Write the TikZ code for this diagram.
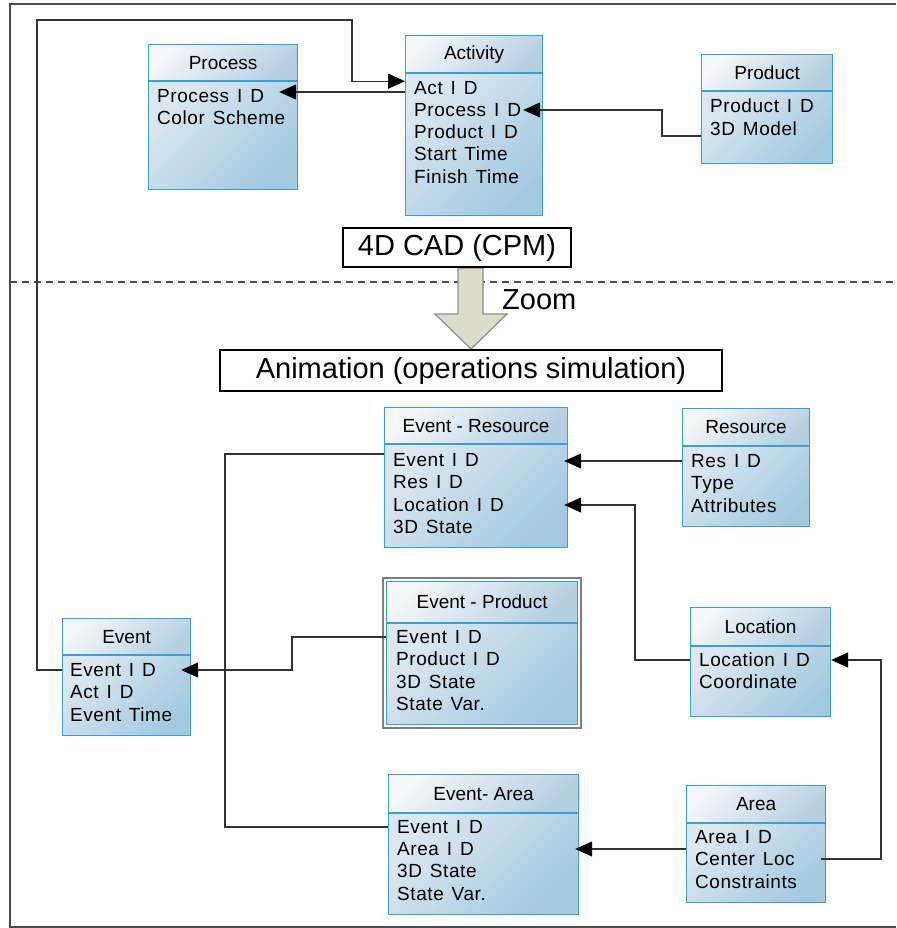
\documentclass[tikz,border=0pt]{standalone}
\usepackage{fontspec}
\setmainfont{Liberation Sans}
\newfontfamily\rowfamily{Liberation Sans}[LetterSpace=3, WordSpace=1.35]
\usetikzlibrary{calc}
\usetikzlibrary{arrows.meta}

\definecolor{tabline}{HTML}{3A9FD5}
\definecolor{tabhi}{HTML}{F4F6F8}
\definecolor{headlo}{HTML}{B6D0E2}
\definecolor{bodyhi}{HTML}{DCE8F0}
\definecolor{bodylo}{HTML}{A3C9E1}
\definecolor{zoomfill}{HTML}{DCDCC8}
\definecolor{wiregray}{HTML}{333333}

\newcommand{\rowfont}{\fontsize{19}{22}\selectfont}
\newcommand{\bigfont}{\fontsize{29}{34}\selectfont}

\begin{document}
\begin{tikzpicture}[x=1pt, y=-1pt,
	tabhead/.style={draw=tabline, line width=1.2pt, anchor=north west, inner sep=0pt,
		top color=tabhi, bottom color=headlo, shading angle=45, font=\rowfont},
	tabbody/.style={draw=tabline, line width=1.2pt, anchor=north west, inner sep=0pt,
		top color=bodyhi, bottom color=bodylo, shading angle=45},
	row/.style={anchor=west, inner sep=0pt, font=\rowfamily\rowfont, text height=13.5pt, text depth=0pt},
	bigbox/.style={draw=black, line width=1.2pt, fill=white, inner sep=0pt, font=\bigfont},
	wire/.style={draw=wiregray, line width=1.1pt},
	toarrow/.style={-{Triangle[length=17pt, width=15pt, black]}},
	frame/.style={draw=black!70, line width=2pt}]

	\useasboundingbox (0,0) rectangle (896,928);

	\draw[frame] (896,4) -- (10,4) -- (10,927) -- (896,927);
	\draw[draw=black!70, line width=1.2pt, dash pattern=on 7pt off 5pt] (10,282) -- (896,282);

	% upper part: 4D CAD
	\node[tabhead, minimum width=149pt, minimum height=36pt] (pro) at (148,44) {Process};
	\node[tabbody, minimum width=149pt, minimum height=108pt] (prob) at (pro.south west) {};
	\node[row] (pro1) at (157,96) {Process I D};
	\node[row] (pro2) at (157,118) {Color Scheme};

	\node[tabhead, minimum width=137pt, minimum height=37pt] (act) at (405,35) {Activity};
	\node[tabbody, minimum width=137pt, minimum height=142pt] (actb) at (act.south west) {};
	\node[row] (act1) at (414,88) {Act I D};
	\node[row] (act2) at (414,110) {Process I D};
	\node[row] (act3) at (414,132) {Product I D};
	\node[row] (act4) at (414,154) {Start Time};
	\node[row] (act5) at (414,177) {Finish Time};

	\node[tabhead, minimum width=131pt, minimum height=36pt] (prd) at (701,54) {Product};
	\node[tabbody, minimum width=131pt, minimum height=72pt] (prdb) at (prd.south west) {};
	\node[row] (prd1) at (710,106) {Product I D};
	\node[row] (prd2) at (710,129) {3D Model};

	\draw[draw=black!45, line width=1.2pt, fill=zoomfill]
		(458,268) -- (483,268) -- (483,314) -- (507,314) -- (471,349) -- (435,314) -- (458,314) -- cycle;
	\node[bigbox, minimum width=228pt, minimum height=39pt] (cad) at (457,247.5) {4D CAD (CPM)};
	\node[anchor=west, inner sep=0pt, font=\bigfont] (zoomlbl) at (502,300) {Zoom};
	\node[bigbox, minimum width=502pt, minimum height=41pt] (anim) at (471,370.5) {Animation (operations simulation)};

	% lower part: animation
	\node[tabhead, minimum width=183pt, minimum height=36pt] (er) at (384,407) {Event - Resource};
	\node[tabbody, minimum width=183pt, minimum height=103pt] (erb) at (er.south west) {};
	\node[row] (er1) at (393,460) {Event I D};
	\node[row] (er2) at (393,482) {Res I D};
	\node[row] (er3) at (393,505) {Location I D};
	\node[row] (er4) at (393,527) {3D State};

	\node[tabhead, minimum width=127pt, minimum height=37pt] (res) at (682,408) {Resource};
	\node[tabbody, minimum width=127pt, minimum height=80pt] (resb) at (res.south west) {};
	\node[row] (res1) at (691,461) {Res I D};
	\node[row] (res2) at (691,483) {Type};
	\node[row] (res3) at (691,506) {Attributes};

	\node[tabhead, minimum width=191pt, minimum height=41pt] (ep) at (386,581) {Event - Product};
	\node[tabbody, minimum width=191pt, minimum height=101pt] (epb) at (ep.south west) {};
	\draw[draw=black!50, line width=2pt] ($(ep.north west)+(-3,-3)$) rectangle ($(epb.south east)+(3,3)$);
	\node[row] (ep1) at (396,637) {Event I D};
	\node[row] (ep2) at (396,659) {Product I D};
	\node[row] (ep3) at (396,682) {3D State};
	\node[row] (ep4) at (396,704) {State Var.};

	\node[tabhead, minimum width=128pt, minimum height=36pt] (evt) at (62,618) {Event};
	\node[tabbody, minimum width=128pt, minimum height=80pt] (evtb) at (evt.south west) {};
	\node[row] (evt1) at (70,670) {Event I D};
	\node[row] (evt2) at (70,692) {Act I D};
	\node[row] (evt3) at (70,715) {Event Time};

	\node[tabhead, minimum width=140pt, minimum height=38pt] (loc) at (690,607) {Location};
	\node[tabbody, minimum width=140pt, minimum height=70pt] (locb) at (loc.south west) {};
	\node[row] (loc1) at (699,660) {Location I D};
	\node[row] (loc2) at (699,682) {Coordinate};

	\node[tabhead, minimum width=190pt, minimum height=38pt] (ea) at (388,774) {Event- Area};
	\node[tabbody, minimum width=190pt, minimum height=101pt] (eab) at (ea.south west) {};
	\node[row] (ea1) at (397,827) {Event I D};
	\node[row] (ea2) at (397,849) {Area I D};
	\node[row] (ea3) at (397,871) {3D State};
	\node[row] (ea4) at (397,894) {State Var.};

	\node[tabhead, minimum width=139pt, minimum height=37pt] (ar) at (686,785) {Area};
	\node[tabbody, minimum width=139pt, minimum height=79pt] (arb) at (ar.south west) {};
	\node[row] (ar1) at (695,837) {Area I D};
	\node[row] (ar2) at (695,859) {Center Loc};
	\node[row] (ar3) at (695,882) {Constraints};

	% bends of the links
	\coordinate (ebend) at (37,20);
	\coordinate (pbend) at (662,0);
	\coordinate (ebus) at (292,0);
	\coordinate (rbus) at (225,0);
	\coordinate (lbend) at (635,0);
	\coordinate (abend) at (881,0);
	\coordinate (actin) at ($(actb.north west)+(0,8)$);

	\draw[wire, toarrow] (evtb.west |- evt1) -| (ebend) -| ($(actin)+(-53,0)$) -- (actin);
	\draw[wire, toarrow] ($(actb.west |- pro1)+(0,-4)$) -- ($(pro1 -| prob.east)+(-19,-4)$);
	\draw[wire, toarrow] ($(prdb.west |- prd2)+(0,7)$) -| (pbend |- act2) -- ($(act2 -| actb.east)+(-20,0)$);
	\draw[wire, toarrow] (epb.west |- ep1) -| (ebus |- evt1) -- ($(evt1 -| evtb.east)+(-10,0)$);
	\draw[wire] ($(erb.west |- er1)+(0,-6)$) -| (rbus |- ea1) -- (eab.west |- ea1);
	\draw[wire, toarrow] (resb.west |- res1) -- ($(res1 -| erb.east)+(-4,0)$);
	\draw[wire, toarrow] (locb.west |- loc1) -| (lbend |- er3) -- ($(er3 -| erb.east)+(-4,0)$);
	\draw[wire, toarrow] ($(arb.east |- ar2)+(-5,0)$) -| (abend |- loc1) -- (loc1 -| locb.east);
	\draw[wire, toarrow] (arb.west |- ea2) -- ($(ea2 -| eab.east)+(-4,0)$);

\end{tikzpicture}
\end{document}
